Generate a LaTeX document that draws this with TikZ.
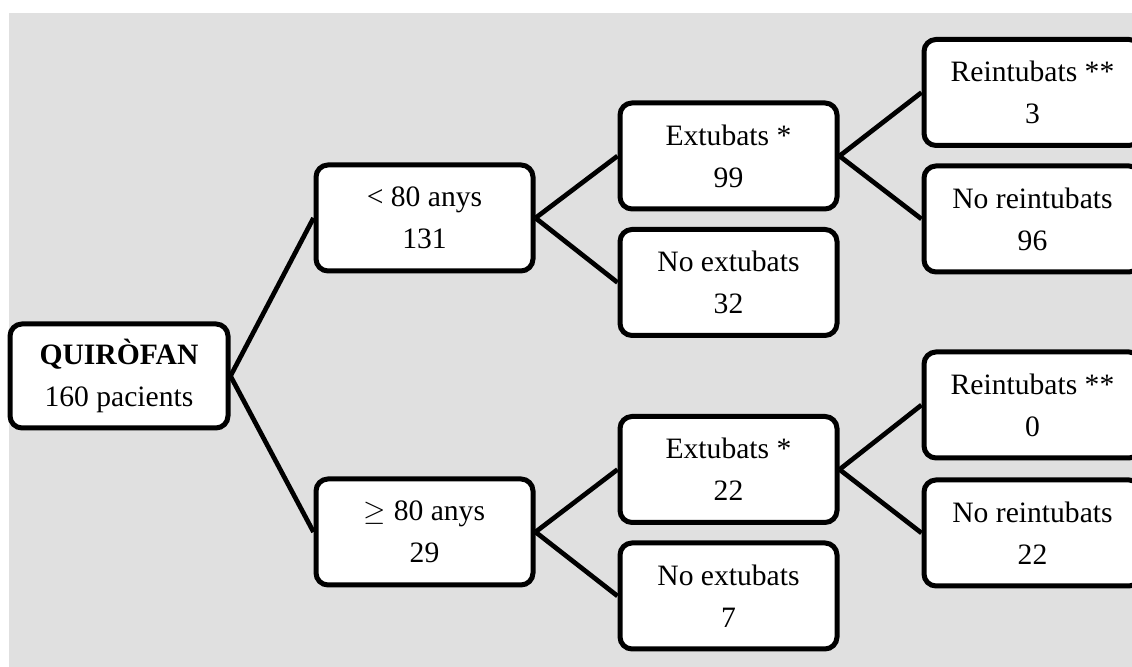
\documentclass[tikz,border=0pt]{standalone}
\usepackage{fontspec}
\setmainfont{Liberation Serif}
\definecolor{bggray}{RGB}{224,224,224}
\tikzset{
  box/.style={draw=black, line width=2.5pt, fill=white, rounded corners=6pt,
    minimum width=108.5pt, minimum height=53pt, align=center, inner sep=0pt,
    font=\fontsize{14.8}{21}\selectfont},
  link/.style={draw=black, line width=2.35pt}
}
\begin{document}
\begin{tikzpicture}[x=0.5pt,y=-0.5pt]
\clip (0,0) rectangle (1132,667);
\fill[white] (0,0) rectangle (1132,667);
\fill[bggray] (9,13) rectangle (1140,670);
% connectors (behind boxes)
\node[box, minimum width=109pt, minimum height=52pt] (q) at (119,376) {\textbf{QUIRÒFAN}\\160 pacients};
\node[box] (r1) at (424.5,218) {< 80 anys\\131};
\node[box] (r2) at (424.5,532) {$\geq$ 80 anys\\29};
\node[box] (e1) at (728.5,156) {Extubats *\\99};
\node[box] (n1) at (728.5,282.5) {No extubats\\32};
\node[box] (e2) at (728.5,469.5) {Extubats *\\22};
\node[box] (n2) at (728.5,596) {No extubats\\7};
\node[box] (ri1) at (1032.5,92.5) {Reintubats **\\3};
\node[box] (nr1) at (1032.5,219) {No reintubats\\96};
\node[box] (ri2) at (1032.5,405) {Reintubats **\\0};
\node[box] (nr2) at (1032.5,533) {No reintubats\\22};
\draw[link] (q.east) -- (r1.west);
\draw[link] (q.east) -- (r2.west);
\draw[link] (r1.east) -- (e1.west);
\draw[link] (r1.east) -- (n1.west);
\draw[link] (r2.east) -- (e2.west);
\draw[link] (r2.east) -- (n2.west);
\draw[link] (e1.east) -- (ri1.west);
\draw[link] (e1.east) -- (nr1.west);
\draw[link] (e2.east) -- (ri2.west);
\draw[link] (e2.east) -- (nr2.west);
\end{tikzpicture}
\end{document}
